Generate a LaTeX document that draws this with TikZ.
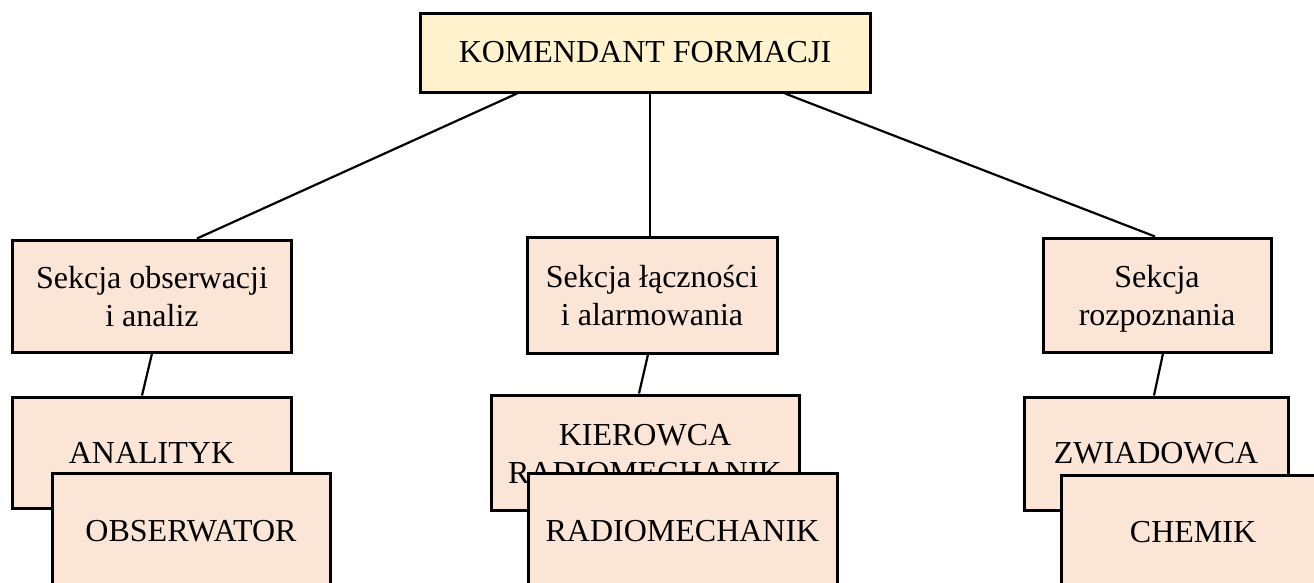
\documentclass[tikz,border=0pt]{standalone}
\usepackage{fontspec}
\setmainfont{Liberation Serif}
\definecolor{topfill}{HTML}{FFF2CC}
\definecolor{boxfill}{HTML}{FBE5D6}
\begin{document}
\begin{tikzpicture}[x=1pt,y=-1pt,
  box/.style={draw=black, line width=3pt, fill=boxfill, inner sep=0pt, align=center, font=\fontsize{32}{38}\selectfont},
  twoline/.style={text height=60pt, text depth=0pt},
  link/.style={draw=black, line width=2.2pt}]
\useasboundingbox (0,0) rectangle (1314,582);
\clip (0,0) rectangle (1314,582);
% top
\node[box, fill=topfill, minimum width=450, minimum height=79] (top) at (645,52.5) {KOMENDANT FORMACJI};
% sections
\node[box, twoline, minimum width=279, minimum height=112] (s1) at (152,296) {Sekcja obserwacji\\i analiz};
\node[box, twoline, minimum width=250, minimum height=116] (s2) at (652,295) {Sekcja łączności\\ i alarmowania};
\node[box, twoline, minimum width=228, minimum height=114] (s3) at (1157,295) {Sekcja\\rozpoznania};
% connectors top -> sections
\draw[link] ([xshift=-128pt]top.south) -- ([xshift=45pt]s1.north);
\draw[link] ([xshift=5pt]top.south) -- ([xshift=-2pt]s2.north);
\draw[link] ([xshift=140pt]top.south) -- ([xshift=-2pt]s3.north);
% back sub boxes
\node[box, minimum width=279, minimum height=111] (a1) at (151.5,452.5) {ANALITYK};
\node[box, text height=62pt, text depth=0pt, minimum width=308, minimum height=115] (k1) at (645,452.5) {KIEROWCA\\RADIOMECHANIK};
\node[box, minimum width=264, minimum height=113] (z1) at (1156,453.5) {ZWIADOWCA};
% connectors sections -> sub boxes
\draw[link] (s1.south) -- ([xshift=-9.5pt]a1.north);
\draw[link] ([xshift=-4pt]s2.south) -- ([xshift=-6pt]k1.north);
\draw[link] ([xshift=6pt]s3.south) -- ([xshift=-2pt]z1.north);
% front sub boxes
\node[box, minimum width=278, minimum height=117] (o1) at (191,531.5) {OBSERWATOR};
\node[box, minimum width=309, minimum height=117] (r1) at (682.5,531.5) {RADIOMECHANIK};
\node[box, minimum width=264, minimum height=115] (c1) at (1193,532.5) {CHEMIK};
\end{tikzpicture}
\end{document}
